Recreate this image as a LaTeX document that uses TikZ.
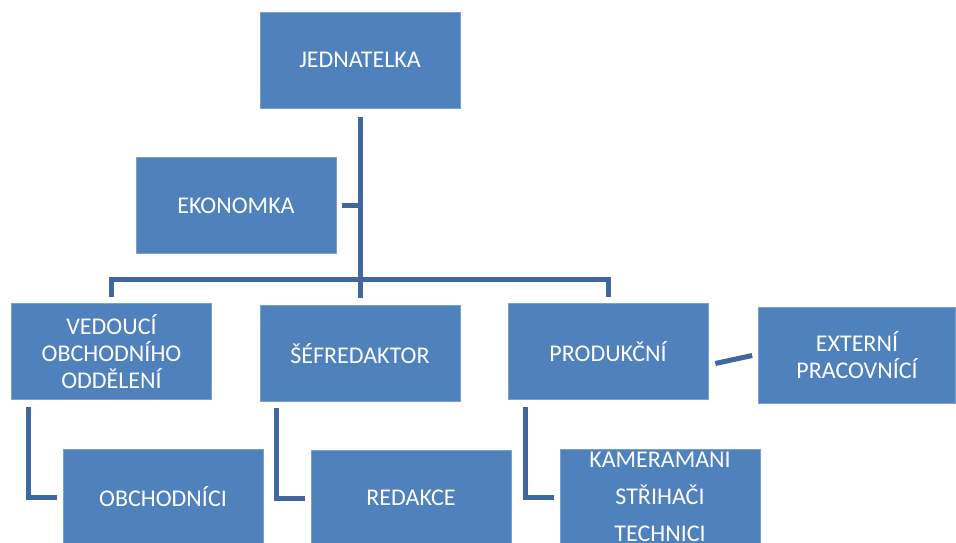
\documentclass[tikz,border=0pt]{standalone}
\usepackage{fontspec}
\setmainfont{Carlito}
\usetikzlibrary{calc}
\definecolor{boxblue}{RGB}{79,129,189}
\definecolor{lineblue}{RGB}{64,104,158}
\tikzset{
  unit/.style={fill=boxblue, draw=boxblue!75!white, line width=0.6pt, text=white,
    minimum width=200pt, minimum height=96pt, inner sep=0pt, align=center,
    font=\fontsize{24}{27}\selectfont},
  link/.style={draw=lineblue, line width=5pt},
}

\begin{document}
\begin{tikzpicture}[x=1pt, y=-1pt]
    \clip (0,0) rectangle (956,543);

    % Boxes
    \node[unit] (jed) at (360,60) {JEDNATELKA};
    \node[unit] (eko) at (236,205.5) {EKONOMKA};
    \node[unit] (ved) at (111.5,351.5) {VEDOUCÍ\\OBCHODNÍHO\\ODDĚLENÍ};
    \node[unit] (sef) at (360,353.5) {ŠÉFREDAKTOR};
    \node[unit] (prod) at (608,351.5) {PRODUKČNÍ};
    \node[unit, minimum width=197pt] (ext) at (857,355.5) {EXTERNÍ\\PRACOVNÍCÍ};
    \node[unit] (obch) at (163,497) {OBCHODNÍCI};
    \node[unit] (red) at (411,498) {REDAKCE};
    \node[unit] (kam) at (660,497) {KAMERAMANI\\[10pt]STŘIHAČI\\[10pt]TECHNICI};

    % Trunk and bar
    \coordinate (trunkTop) at ($(jed.south)+(0,9)$);
    \coordinate (trunkEnd) at ($(sef.north)+(0,-7)$);
    \coordinate (barL) at ($(ved.north)+(0,-24)$);
    \draw[link] (trunkTop) -- (trunkEnd);
    \draw[link] ($(eko.east)+(6,0)$) -- (eko.east -| trunkTop);
    \draw[link] ($(ved.north)+(0,-6)$) -- (barL) -- (barL -| prod.north) -- ($(prod.north)+(0,-6)$);

    % Side link
    \draw[link] ($(prod.east)+(7,12)$) -- ($(ext.west)+(-6,0)$);

    % Elbows
    \draw[link] ($(ved.south west)+(17,7)$) |- ($(obch.west)+(-6,0)$);
    \draw[link] ($(sef.south west)+(17,6)$) |- ($(red.west)+(-6,0)$);
    \draw[link] ($(prod.south west)+(18,7)$) |- ($(kam.west)+(-6,0)$);
\end{tikzpicture}
\end{document}
